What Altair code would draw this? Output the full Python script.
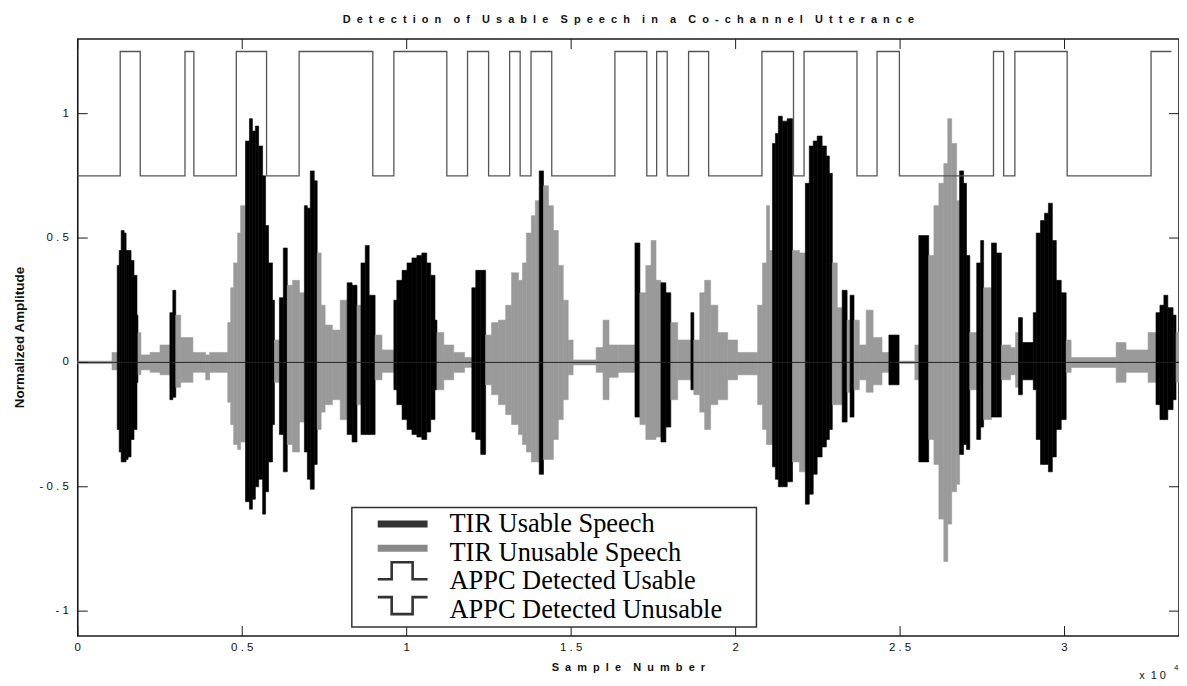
import altair as alt
import pandas as pd

# ---------------- data ----------------
N_SAMPLES = 33480

# waveform envelope: segment start (sample), upper / lower envelope, TIR class
seg_start = [0, 1040, 1200, 1260, 1320, 1410, 1470, 1530, 1620, 1710, 1800, 1830, 1920, 2200, 2500,
             2800, 2890, 2980, 3130, 3500, 3890, 4010, 4560, 4650, 4740, 4860, 4950, 5100, 5220, 5310,
             5400, 5500, 5620, 5710, 5800, 5920, 5980, 6130, 6250, 6370, 6530, 6740, 6890, 6980, 7070,
             7190, 7280, 7400, 7520, 7740, 7980, 8190, 8340, 8490, 8610, 8740, 8860, 9040, 9250, 9610,
             9700, 9860, 10010, 10160, 10310, 10460, 10610, 10730, 10860, 10920, 11130, 11430, 11760, 11980, 12100,
             12250, 12400, 12580, 12790, 13010, 13190, 13400, 13520, 13640, 13790, 13910, 14030, 14160, 14310, 14460,
             14610, 14760, 14910, 15060, 15760, 15970, 16150, 16430, 16940, 17090, 17270, 17430, 17580, 17730, 17880,
             18030, 18240, 18640, 18730, 18910, 19060, 19240, 19460, 19760, 20060, 20670, 20820, 20940, 21030, 21120,
             21210, 21300, 21420, 21570, 21730, 21940, 22120, 22240, 22360, 22480, 22630, 22760, 22850, 22940, 23090,
             23240, 23390, 23480, 23600, 23760, 23970, 24180, 24450, 24660, 24970, 25450, 25570, 25870, 26030, 26180,
             26330, 26450, 26570, 26720, 26810, 26930, 27020, 27120, 27330, 27450, 27540, 27780, 27930, 28080, 28360,
             28510, 28600, 28720, 29050, 29140, 29270, 29390, 29510, 29630, 29750, 29900, 30050, 30200, 31570, 31870,
             32540, 32780, 32900, 33020, 33140, 33300, 33390]
seg_top = [0.005, 0.04, 0.39, 0.45, 0.53, 0.52, 0.45, 0.45, 0.41, 0.35, 0.19, 0.12, 0.03, 0.04, 0.07,
           0.20, 0.29, 0.19, 0.10, 0.04, 0.03, 0.04, 0.16, 0.30, 0.40, 0.52, 0.63, 0.89, 0.98, 0.93,
           0.95, 0.87, 0.75, 0.55, 0.40, 0.25, 0.09, 0.26, 0.46, 0.31, 0.33, 0.28, 0.63, 0.62, 0.77,
           0.73, 0.44, 0.23, 0.15, 0.13, 0.25, 0.32, 0.31, 0.23, 0.40, 0.47, 0.27, 0.11, 0.05, 0.25,
           0.33, 0.37, 0.40, 0.42, 0.43, 0.44, 0.40, 0.35, 0.17, 0.12, 0.07, 0.04, 0.02, 0.30, 0.37,
           0.37, 0.11, 0.16, 0.17, 0.23, 0.36, 0.33, 0.40, 0.52, 0.59, 0.65, 0.77, 0.71, 0.63, 0.53,
           0.39, 0.25, 0.09, 0.01, 0.06, 0.17, 0.07, 0.07, 0.48, 0.28, 0.39, 0.49, 0.33, 0.32, 0.28,
           0.16, 0.09, 0.20, 0.09, 0.28, 0.33, 0.23, 0.12, 0.09, 0.04, 0.23, 0.40, 0.63, 0.45, 0.88,
           0.92, 0.99, 0.97, 0.98, 0.45, 0.44, 0.72, 0.87, 0.89, 0.91, 0.87, 0.83, 0.76, 0.40, 0.22,
           0.29, 0.17, 0.27, 0.17, 0.07, 0.21, 0.10, 0.04, 0.11, 0.005, 0.07, 0.51, 0.43, 0.63, 0.72,
           0.80, 0.98, 0.88, 0.65, 0.77, 0.72, 0.43, 0.12, 0.40, 0.49, 0.30, 0.48, 0.44, 0.07, 0.06,
           0.12, 0.18, 0.08, 0.20, 0.52, 0.57, 0.60, 0.64, 0.49, 0.33, 0.28, 0.09, 0.02, 0.08, 0.05,
           0.12, 0.20, 0.23, 0.27, 0.22, 0.19, 0.12]
seg_bot = [-0.005, -0.03, -0.27, -0.36, -0.40, -0.40, -0.39, -0.38, -0.31, -0.27, -0.08, -0.05, -0.03, -0.04, -0.05,
           -0.15, -0.14, -0.10, -0.08, -0.04, -0.07, -0.04, -0.16, -0.25, -0.33, -0.35, -0.32, -0.56, -0.59, -0.55,
           -0.50, -0.47, -0.61, -0.52, -0.40, -0.25, -0.08, -0.29, -0.44, -0.33, -0.36, -0.24, -0.36, -0.47, -0.51,
           -0.41, -0.27, -0.20, -0.17, -0.15, -0.23, -0.29, -0.32, -0.17, -0.29, -0.29, -0.29, -0.07, -0.04, -0.11,
           -0.17, -0.23, -0.27, -0.29, -0.30, -0.31, -0.28, -0.23, -0.11, -0.11, -0.07, -0.04, -0.02, -0.28, -0.31,
           -0.37, -0.09, -0.13, -0.17, -0.21, -0.25, -0.29, -0.33, -0.36, -0.40, -0.40, -0.45, -0.39, -0.39, -0.31,
           -0.23, -0.15, -0.05, -0.01, -0.04, -0.15, -0.06, -0.04, -0.22, -0.25, -0.31, -0.31, -0.30, -0.32, -0.26,
           -0.15, -0.07, -0.11, -0.13, -0.20, -0.27, -0.17, -0.15, -0.07, -0.05, -0.17, -0.27, -0.33, -0.33, -0.42,
           -0.47, -0.50, -0.50, -0.48, -0.40, -0.44, -0.57, -0.53, -0.45, -0.38, -0.34, -0.31, -0.27, -0.17, -0.17,
           -0.24, -0.12, -0.22, -0.11, -0.07, -0.12, -0.09, -0.04, -0.09, -0.005, -0.07, -0.40, -0.31, -0.41, -0.63,
           -0.80, -0.65, -0.52, -0.49, -0.37, -0.33, -0.35, -0.11, -0.31, -0.26, -0.23, -0.22, -0.22, -0.07, -0.05,
           -0.10, -0.13, -0.07, -0.11, -0.31, -0.41, -0.41, -0.44, -0.38, -0.27, -0.23, -0.04, -0.02, -0.08, -0.04,
           -0.08, -0.17, -0.23, -0.23, -0.19, -0.15, -0.08]
seg_usable = [0, 0, 1, 1, 1, 1, 1, 1, 1, 1, 1, 0, 0, 0, 0,
              1, 1, 0, 0, 0, 0, 0, 0, 0, 0, 0, 0, 1, 1, 1,
              1, 1, 1, 1, 1, 1, 0, 1, 1, 0, 0, 0, 1, 1, 1,
              1, 0, 0, 0, 0, 0, 1, 1, 0, 1, 1, 1, 0, 0, 1,
              1, 1, 1, 1, 1, 1, 1, 1, 1, 0, 0, 0, 0, 1, 1,
              1, 0, 0, 0, 0, 0, 0, 0, 0, 0, 0, 1, 0, 0, 0,
              0, 0, 0, 0, 0, 0, 0, 0, 1, 0, 0, 0, 0, 1, 1,
              0, 0, 1, 0, 0, 0, 0, 0, 0, 0, 0, 0, 0, 0, 1,
              1, 1, 1, 1, 0, 0, 1, 1, 1, 1, 1, 1, 1, 0, 0,
              1, 0, 1, 0, 0, 0, 0, 0, 1, 0, 0, 1, 0, 0, 0,
              0, 0, 0, 0, 1, 1, 1, 0, 1, 1, 0, 1, 1, 0, 0,
              0, 1, 1, 1, 1, 1, 1, 1, 1, 1, 1, 0, 0, 0, 0,
              0, 1, 1, 1, 1, 1, 0]

# APPC usability decision (step function)
appc_x = [0, 1290, 1900, 3260, 3530, 4820, 5740, 6730, 8970, 9610, 11220, 11850, 12490, 13130, 13450,
          13780, 14410, 16330, 17300, 17600, 17920, 18570, 19180, 20800, 21760, 22080, 23690, 24300, 24980,
          27840, 28150, 28490, 30080, 32630, 33250]
appc_level = [0.75, 1.25, 0.75, 1.25, 0.75, 1.25, 0.75, 1.25, 0.75, 1.25, 0.75, 1.25, 0.75, 1.25, 0.75,
              1.25, 0.75, 1.25, 0.75, 1.25, 0.75, 1.25, 0.75, 1.25, 0.75, 1.25, 0.75, 1.25, 0.75,
              1.25, 0.75, 1.25, 0.75, 1.25, 1.25]

x_ticks = [0, 5000, 10000, 15000, 20000, 25000, 30000]
x_tick_labels = ["0", "0.5", "1", "1.5", "2", "2.5", "3"]
y_ticks = [-1, -0.5, 0, 0.5, 1]
y_tick_labels = ["-1", "-0.5", "0", "0.5", "1"]

legend_labels = ["TIR Usable Speech", "TIR Unusable Speech", "APPC Detected Usable", "APPC Detected Unusable"]
title_text = "Detection of Usable Speech in a Co-channel Utterance"
x_title = "Sample Number"
y_title = "Normalized Amplitude"

# ---------------- helpers ----------------
NB = "\u00a0"


def spaced(s, gap=NB + " ", word_gap=NB * 3 + " "):
    words = s.split(" ")
    return word_gap.join(gap.join(list(w)) for w in words)


def spaced_num(s):
    return " ".join(list(s))


W, H = 1105, 599
FONT = "Liberation Sans"
INK = "#111111"

seg_end = seg_start[1:] + [N_SAMPLES]
wave = pd.DataFrame({
    "s0": seg_start, "s1": seg_end, "top": seg_top, "bot": seg_bot,
    "cls": ["usable" if u else "unusable" for u in seg_usable],
})
appc = pd.DataFrame({"s": appc_x, "lvl": appc_level})

xs = alt.Scale(domain=[0, N_SAMPLES], nice=False, zero=False)
ys = alt.Scale(domain=[-1.1, 1.3], nice=False, zero=False)
cls_scale = alt.Scale(domain=["usable", "unusable"], range=["#000000", "#9a9a9a"])

wave_layer = alt.Chart(wave).mark_rect(strokeWidth=0.6).encode(
    x=alt.X("s0:Q", scale=xs, axis=None),
    x2="s1:Q",
    y=alt.Y("top:Q", scale=ys, axis=None),
    y2="bot:Q",
    color=alt.Color("cls:N", scale=cls_scale, legend=None),
    stroke=alt.Stroke("cls:N", scale=cls_scale, legend=None),
)

zero_line = alt.Chart(pd.DataFrame({"v": [0]})).mark_rule(color="#222222", strokeWidth=1).encode(
    y=alt.Y("v:Q", scale=ys, axis=None))

appc_line = alt.Chart(appc).mark_line(interpolate="step-after", color="#555555", strokeWidth=1.3).encode(
    x=alt.X("s:Q", scale=xs, axis=None), y=alt.Y("lvl:Q", scale=ys, axis=None))

# ---------------- axes: inward ticks, labels, titles ----------------
xt = pd.DataFrame({"v": x_ticks, "lab": [spaced_num(s) for s in x_tick_labels]})
yt = pd.DataFrame({"v": y_ticks, "lab": [spaced_num(s) for s in y_tick_labels]})
TICK = 10
tick_color = "#1a1a1a"
ticks_bottom = alt.Chart(xt).mark_rule(color=tick_color, strokeWidth=1).encode(
    x=alt.X("v:Q", scale=xs, axis=None), y=alt.value(H - TICK), y2=alt.value(H))
ticks_top = alt.Chart(xt).mark_rule(color=tick_color, strokeWidth=1).encode(
    x=alt.X("v:Q", scale=xs, axis=None), y=alt.value(0), y2=alt.value(TICK))
ticks_left = alt.Chart(yt).mark_rule(color=tick_color, strokeWidth=1).encode(
    y=alt.Y("v:Q", scale=ys, axis=None), x=alt.value(0), x2=alt.value(TICK))
ticks_right = alt.Chart(yt).mark_rule(color=tick_color, strokeWidth=1).encode(
    y=alt.Y("v:Q", scale=ys, axis=None), x=alt.value(W - TICK), x2=alt.value(W))

x_labels = alt.Chart(xt).mark_text(align="center", baseline="middle", font=FONT, fontSize=11.5,
                                   color=INK).encode(
    x=alt.X("v:Q", scale=xs, axis=None), y=alt.value(H + 12.5), text="lab:N")
y_labels = alt.Chart(yt).mark_text(align="right", baseline="middle", font=FONT, fontSize=11.5,
                                   color=INK).encode(
    y=alt.Y("v:Q", scale=ys, axis=None), x=alt.value(-9), text="lab:N")

one = pd.DataFrame({"a": [0]})
x_title_mark = alt.Chart(one).mark_text(align="center", baseline="middle", font=FONT, fontSize=11,
                                        fontWeight="bold", color=INK, text=spaced(x_title)).encode(
    x=alt.value(W / 2), y=alt.value(H + 32))
y_title_mark = alt.Chart(one).mark_text(align="center", baseline="middle", font=FONT, fontSize=13.5,
                                        fontWeight="bold", color=INK, angle=270, text=y_title).encode(
    x=alt.value(-58), y=alt.value(H / 2))

# ---------------- legend (drawn box) ----------------
LX0, LX1, LY0, LY1 = 275, 681, 470, 590
leg_box = alt.Chart(one).mark_rect(fill="white", stroke="#333333", strokeWidth=1.5).encode(
    x=alt.value(LX0), x2=alt.value(LX1), y=alt.value(LY0), y2=alt.value(LY1))
SX0, SX1 = 301, 351
leg_bar1 = alt.Chart(one).mark_rect(color="#333333").encode(
    x=alt.value(SX0), x2=alt.value(SX1), y=alt.value(483), y2=alt.value(490))
leg_bar2 = alt.Chart(one).mark_rect(color="#888888").encode(
    x=alt.value(SX0), x2=alt.value(SX1), y=alt.value(507.5), y2=alt.value(514.5))
glyph = pd.DataFrame({
    "g": ["up"] * 6 + ["down"] * 6,
    "i": list(range(6)) * 2,
    "px": [SX0, 315, 315, 336, 336, SX1] * 2,
    "py": [542, 542, 525, 525, 542, 542, 560, 560, 577, 577, 560, 560],
})
leg_steps = alt.Chart(glyph).mark_line(color="#333333", strokeWidth=2.6, strokeJoin="miter").encode(
    x=alt.X("px:Q", scale=None, axis=None), y=alt.Y("py:Q", scale=None, axis=None),
    detail="g:N", order="i:Q")
leg_text_df = pd.DataFrame({"label": legend_labels, "ty": [495 + 28.6 * i for i in range(4)]})
leg_text = alt.Chart(leg_text_df).mark_text(align="left", baseline="alphabetic", font="Liberation Serif",
                                              fontSize=26.5, color="#000000").encode(
    x=alt.value(373), y=alt.Y("ty:Q", scale=None, axis=None), text="label:N")

# ---------------- exponent annotation ----------------
exp_base = alt.Chart(one).mark_text(align="left", baseline="alphabetic", font=FONT, fontSize=11,
                                    color=INK, text="x " + NB + "1 0").encode(
    x=alt.value(1065), y=alt.value(642))
exp_pow = alt.Chart(one).mark_text(align="left", baseline="alphabetic", font=FONT, fontSize=8,
                                   color=INK, text="4").encode(
    x=alt.value(1100), y=alt.value(633))

chart = alt.layer(
    wave_layer, zero_line, appc_line,
    ticks_bottom, ticks_top, ticks_left, ticks_right,
    x_labels, y_labels, x_title_mark, y_title_mark,
    leg_box, leg_bar1, leg_bar2, leg_steps, leg_text,
    exp_base, exp_pow,
).properties(
    width=W, height=H,
    title=alt.Title(spaced(title_text), font=FONT, fontSize=11, fontWeight="bold", color=INK,
                    anchor="middle", offset=14),
    autosize=alt.AutoSizeParams(type="none"),
    padding={"left": 70, "top": 30, "right": 0, "bottom": 47},
).configure(background="white").configure_view(stroke="#1a1a1a", strokeWidth=1.6)

chart.save("out.html", embed_options={"renderer": "svg", "actions": False})
